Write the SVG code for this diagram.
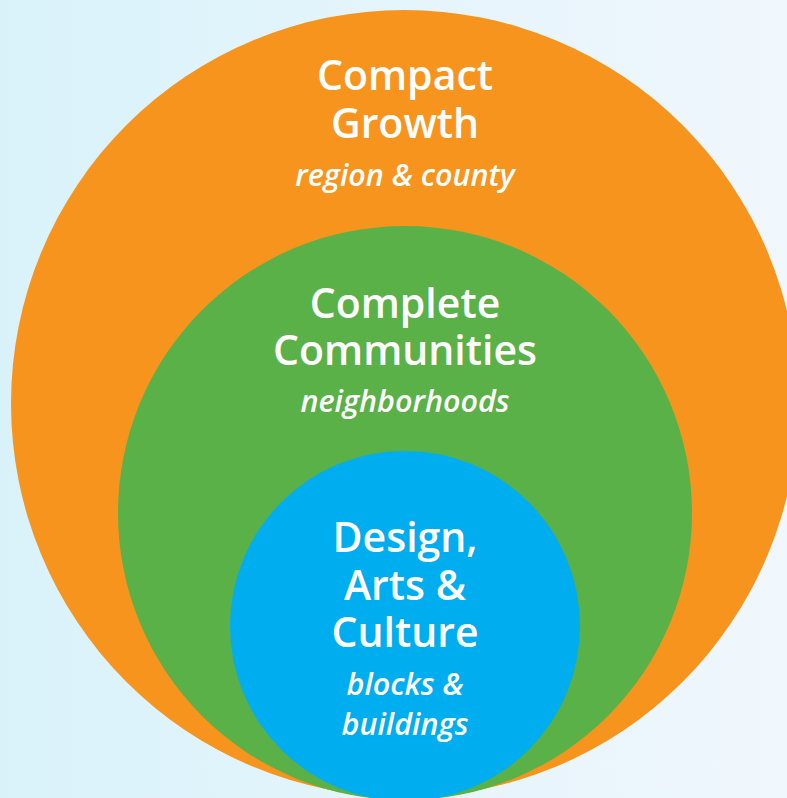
<svg xmlns="http://www.w3.org/2000/svg" width="787" height="798" viewBox="0 0 787 798">
<defs>
<linearGradient id="bg" x1="0" y1="0" x2="1" y2="0">
<stop offset="0" stop-color="#d9f2fa"/>
<stop offset="1" stop-color="#f0f7fd"/>
</linearGradient>
<style>
.t{font-family:"Open Sans","Noto Sans","Liberation Sans",sans-serif;font-weight:600;font-size:41px;fill:#ffffff;text-anchor:middle}
.s{font-family:"Open Sans","Noto Sans","Liberation Sans",sans-serif;font-weight:600;font-style:italic;font-size:30.5px;fill:#ffffff;text-anchor:middle}
</style>
</defs>
<rect width="787" height="798" fill="url(#bg)"/>
<g id="compact-growth">
<circle cx="404.5" cy="403.5" r="393.5" fill="#f7941e"/>
<text class="t" x="405" y="90">Compact</text>
<text class="t" x="405" y="138">Growth</text>
<text class="s" x="405" y="186">region &amp; county</text>
</g>
<g id="complete-communities">
<circle cx="405" cy="513" r="287" fill="#5ab147"/>
<text class="t" x="405" y="318">Complete</text>
<text class="t" x="405" y="365">Communities</text>
<text class="s" x="405" y="412">neighborhoods</text>
</g>
<g id="design-arts-culture">
<circle cx="405" cy="626" r="175" fill="#00aeef"/>
<text class="t" x="405" y="552">Design,</text>
<text class="t" x="405" y="600">Arts &amp;</text>
<text class="t" x="405" y="647">Culture</text>
<text class="s" x="405" y="695">blocks &amp;</text>
<text class="s" x="405" y="735">buildings</text>
</g>
<g id="connectors"/>
</svg>
